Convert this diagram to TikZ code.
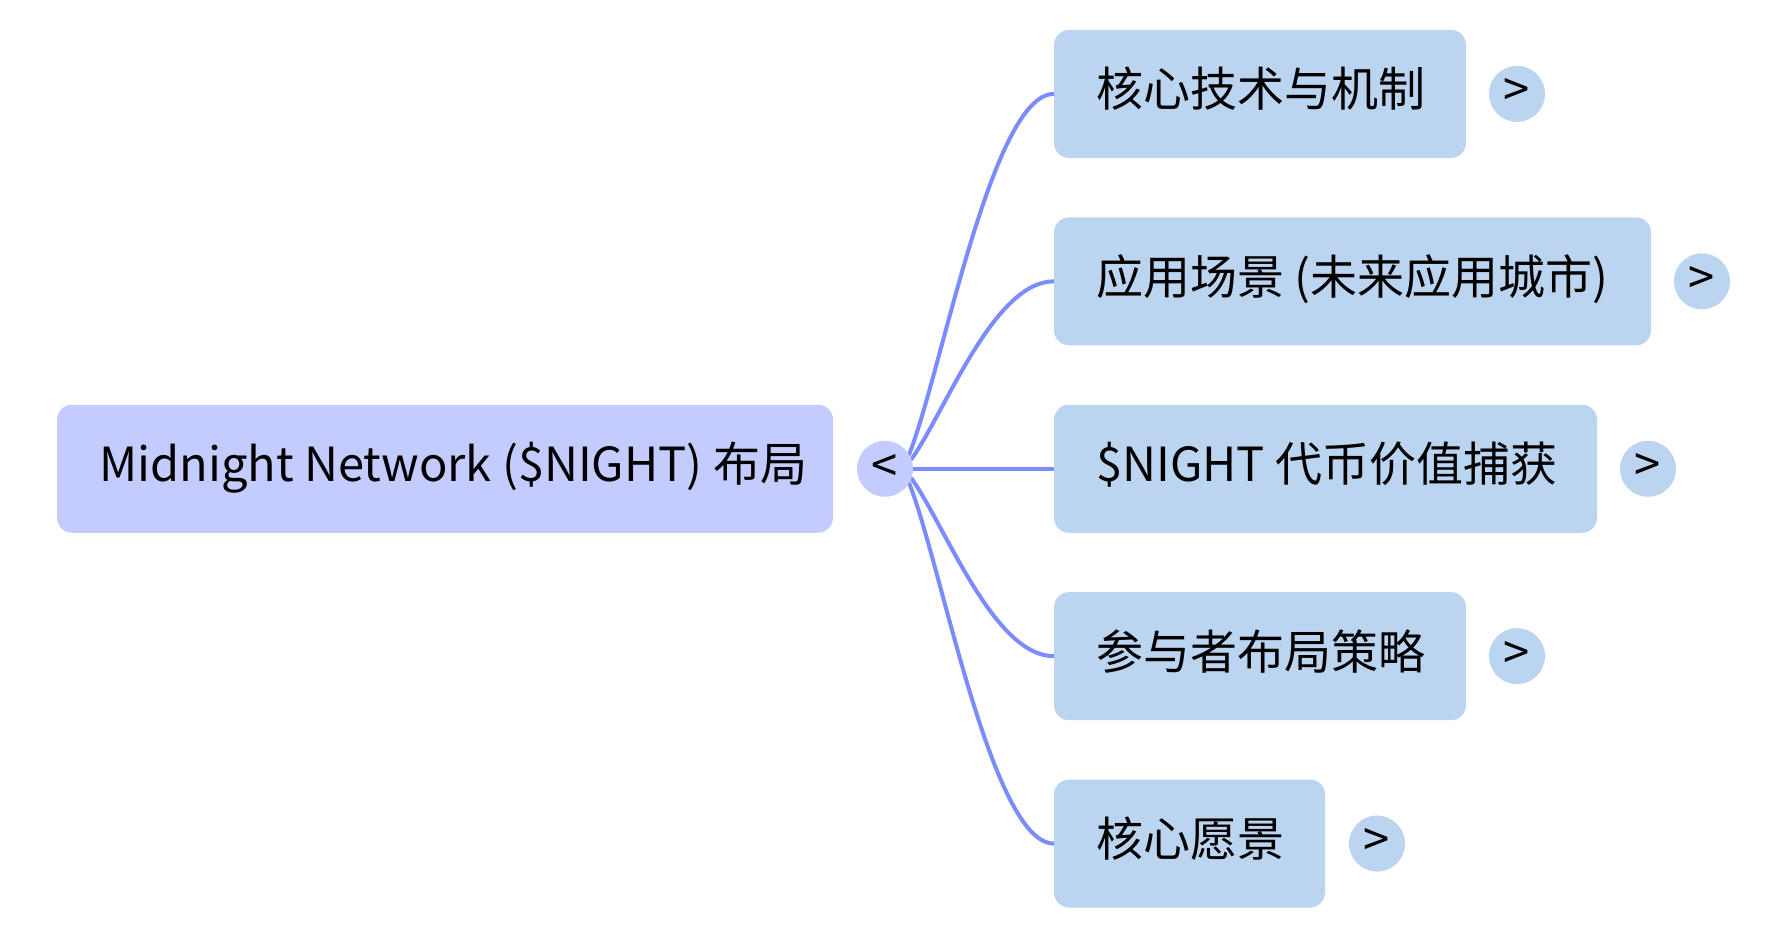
\documentclass[tikz,border=0pt]{standalone}
\usepackage{fontspec}
\setmainfont{Noto Sans CJK SC}
\usetikzlibrary{calc,backgrounds}
\definecolor{rootfill}{HTML}{C4CBFF}
\definecolor{kidfill}{HTML}{BBD4F0}
\definecolor{edgecol}{HTML}{7A8CFF}
\begin{document}
\begin{tikzpicture}[x=1pt,y=-1pt,
  rootbox/.style={fill=rootfill, rounded corners=15pt, inner sep=0pt, minimum height=128pt},
  kidbox/.style={fill=kidfill, rounded corners=15pt, inner sep=0pt, minimum height=128pt},
  txt/.style={anchor=base west, inner sep=0pt, font=\fontsize{47}{50}\selectfont, text=black},
  rootcirc/.style={circle, fill=rootfill, inner sep=0pt, minimum size=56pt, text height=28pt, text depth=0pt, font=\fontsize{47}{50}\selectfont},
  kidcirc/.style={circle, fill=kidfill, inner sep=0pt, minimum size=56pt, text height=26pt, text depth=0pt, font=\fontsize{47}{50}\selectfont},
  edge/.style={draw=edgecol, line width=4pt, line cap=round}
]
\useasboundingbox (0,0) rectangle (1787,937);

% root
\node[rootbox, minimum width=776pt] (root) at (445,468.75) {};
\node[txt] (roottxt) at (99,481.75) {Midnight Network (\$NIGHT) 布局};
\node[rootcirc] (rc) at (885,468.75) {<};

% children
\node[kidbox, minimum width=412pt] (b1) at (1260,93.9) {};
\node[txt] (t1) at (1096,106.9) {核心技术与机制};
\node[kidcirc] (c1) at (1517,93.9) {>};

\node[kidbox, minimum width=597pt] (b2) at (1352.5,281.35) {};
\node[txt] (t2) at (1096,294.35) {应用场景 (未来应用城市)};
\node[kidcirc] (c2) at (1702,281.35) {>};

\node[kidbox, minimum width=543pt] (b3) at (1325.5,468.75) {};
\node[txt] (t3) at (1096,481.75) {\$NIGHT 代币价值捕获};
\node[kidcirc] (c3) at (1648,468.75) {>};

\node[kidbox, minimum width=412pt] (b4) at (1260,656.15) {};
\node[txt] (t4) at (1096,669.15) {参与者布局策略};
\node[kidcirc] (c4) at (1517,656.15) {>};

\node[kidbox, minimum width=271pt] (b5) at (1189.5,843.55) {};
\node[txt] (t5) at (1096,856.55) {核心愿景};
\node[kidcirc] (c5) at (1377,843.55) {>};

\begin{scope}[on background layer]
\draw[edge] (rc.31) .. controls ($(rc.31)+(32,-80)$) and ($(b1.west)+(-62,0)$) .. (b1.west);
\draw[edge] (rc.20) .. controls ($(rc.20)+(34,-48)$) and ($(b2.west)+(-60,0)$) .. (b2.west);
\draw[edge] (rc.east) -- (b3.west);
\draw[edge] (rc.-20) .. controls ($(rc.-20)+(34,48)$) and ($(b4.west)+(-60,0)$) .. (b4.west);
\draw[edge] (rc.-31) .. controls ($(rc.-31)+(32,80)$) and ($(b5.west)+(-62,0)$) .. (b5.west);
\end{scope}
\end{tikzpicture}
\end{document}
